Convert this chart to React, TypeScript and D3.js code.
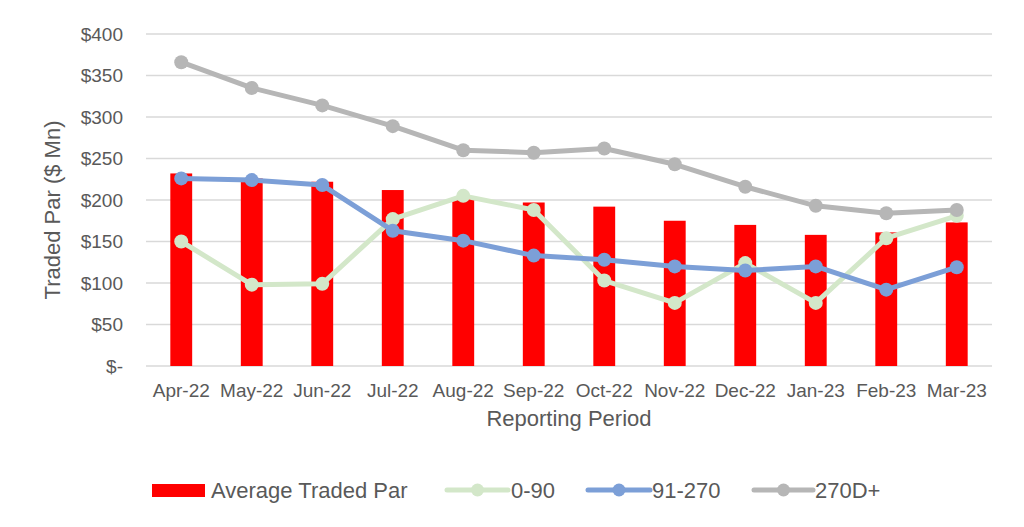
import * as d3 from "d3";

const months = ["Apr-22", "May-22", "Jun-22", "Jul-22", "Aug-22", "Sep-22", "Oct-22", "Nov-22", "Dec-22", "Jan-23", "Feb-23", "Mar-23"];
const avgTradedPar = [232, 226, 222, 212, 202, 197, 192, 175, 170, 158, 161, 173];
const days0to90 = [150, 98, 99, 177, 205, 188, 103, 76, 124, 76, 154, 181];
const days91to270 = [226, 224, 218, 163, 151, 133, 128, 120, 115, 120, 92, 119];
const days270plus = [366, 335, 314, 289, 260, 257, 262, 243, 216, 193, 184, 188];
const yTicks = [0, 50, 100, 150, 200, 250, 300, 350, 400];

const width = 1024;
const height = 527;
const marginLeft = 146;
const marginRight = 32;
const marginTop = 34;
const plotBottom = 366;

const font = "'Liberation Sans', Arial, sans-serif";
const textColor = "#595959";

const lineSeries = [
    { name: "0-90", values: days0to90, color: "#d3e7c9" },
    { name: "91-270", values: days91to270, color: "#7c9fd7" },
    { name: "270D+", values: days270plus, color: "#b6b6b6" },
];

export default function App() {
    const x = d3.scaleBand<string>()
        .domain(months)
        .range([marginLeft, width - marginRight]);

    const y = d3.scaleLinear()
        .domain([0, 400])
        .range([plotBottom, marginTop]);

    const barWidth = x.bandwidth() * 0.31;
    const cx = (m: string) => (x(m) ?? 0) + x.bandwidth() / 2;

    const line = d3.line<number>()
        .x((_, i) => cx(months[i]))
        .y(d => y(d));

    const fmt = (v: number) => (v === 0 ? "$-" : `$${v}`);

    // legend layout
    const legendY = 490;
    const legendLines = [
        { x0: 447, x1: 508, tx: 511 },
        { x0: 588, x1: 650, tx: 652 },
        { x0: 754, x1: 813, tx: 815 },
    ];

    return (
        <div style={{ position: "absolute", left: 0, top: 0 }}>
            <svg width={width} height={height} style={{ display: "block", background: "#fff" }}>
                {/* grid lines */}
                {yTicks.map(t => (
                    <line key={t} x1={marginLeft} x2={width - marginRight} y1={y(t)} y2={y(t)}
                        stroke="#d9d9d9" strokeWidth={1.3} />
                ))}
                {/* y tick labels */}
                {yTicks.map(t => (
                    <text key={t} x={123} y={y(t)} dy="0.35em" textAnchor="end"
                        fontFamily={font} fontSize={19} fill={textColor}>{fmt(t)}</text>
                ))}
                {/* bars */}
                {months.map((m, i) => (
                    <rect key={m} x={cx(m) - barWidth / 2} y={y(avgTradedPar[i])}
                        width={barWidth} height={plotBottom - y(avgTradedPar[i])} fill="#ff0000" />
                ))}
                {/* lines */}
                {lineSeries.map(s => (
                    <g key={s.name}>
                        <path d={line(s.values) ?? ""} fill="none" stroke={s.color} strokeWidth={5}
                            strokeLinejoin="round" strokeLinecap="round" />
                        {s.values.map((v, i) => (
                            <circle key={i} cx={cx(months[i])} cy={y(v)} r={7} fill={s.color} />
                        ))}
                    </g>
                ))}
                {/* x tick labels */}
                {months.map(m => (
                    <text key={m} x={cx(m)} y={397} textAnchor="middle"
                        fontFamily={font} fontSize={19} fill={textColor}>{m}</text>
                ))}
                {/* axis titles */}
                <text x={569} y={426} textAnchor="middle" fontFamily={font} fontSize={22} fill={textColor}>
                    Reporting Period
                </text>
                <text transform="translate(60,210) rotate(-90)" textAnchor="middle"
                    fontFamily={font} fontSize={22} fill={textColor}>
                    Traded Par ($ Mn)
                </text>
                {/* legend */}
                <rect x={152} y={legendY - 6} width={53} height={13} fill="#ff0000" />
                <text x={211} y={legendY} dy="0.35em" fontFamily={font} fontSize={22} fill={textColor}>
                    Average Traded Par
                </text>
                {lineSeries.map((s, i) => {
                    const l = legendLines[i];
                    return (
                        <g key={s.name}>
                            <line x1={l.x0} x2={l.x1} y1={legendY} y2={legendY} stroke={s.color}
                                strokeWidth={5} strokeLinecap="round" />
                            <circle cx={(l.x0 + l.x1) / 2} cy={legendY} r={6.5} fill={s.color} />
                            <text x={l.tx} y={legendY} dy="0.35em" fontFamily={font} fontSize={22} fill={textColor}>
                                {s.name}
                            </text>
                        </g>
                    );
                })}
            </svg>
        </div>
    );
}
